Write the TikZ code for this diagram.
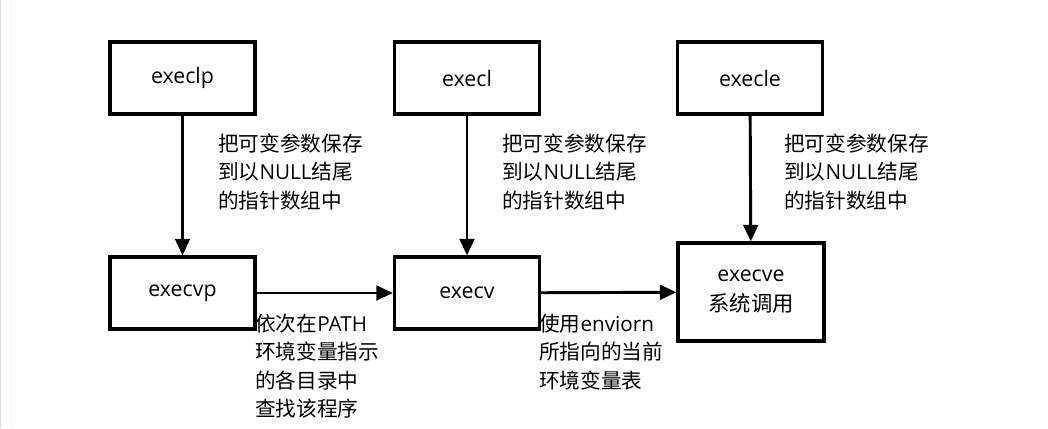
\documentclass[tikz,border=0pt]{standalone}
\usepackage{fontspec}
\setmainfont{Open Sans}
\newfontfamily\cjk{Noto Sans CJK SC}
\usetikzlibrary{arrows.meta}
\begin{document}
\begin{tikzpicture}[x=0.75pt,y=-0.75pt,
  box/.style={draw=black,line width=2.3pt,minimum width=108.75pt,minimum height=54pt,inner sep=0pt,
    font=\fontsize{16}{21.4}\selectfont,align=center},
  arr/.style={line width=2.2pt,-{Triangle[length=12.5pt,width=11pt]}},
  lab/.style={inner sep=0pt,anchor=west,align=left,font=\fontsize{15.5}{21.4}\selectfont}]
\useasboundingbox (0,0) rectangle (1048,428);
\fill[white] (0,0) rectangle (1048,428);
\draw[black!15,line width=1pt] (0.7,0) -- (0.7,428);
\draw[black!5,line width=0.75pt] (11,0) -- (11,428);
% boxes
\node[box] (execlp) at (182.5,78) {execlp};
\node[box] (execl) at (467,78) {execl};
\node[box] (execle) at (750,78) {execle};
\node[box] (execvp) at (182.5,293) {execvp};
\node[box] (execv) at (467,293) {execv};
\node[box,minimum width=109.5pt,minimum height=73.5pt] (execve) at (751,292)
  {execve\\[1pt]{\cjk 系统调用}};
% arrows
\draw[arr] (execlp) -- (execvp);
\draw[arr] (execl) -- (execv);
\draw[arr] (execle) -- (execve);
\draw[arr] (execvp) -- (execv);
\draw[arr] (execv) -- (execve);
% labels
\node[lab] (l1) at (218,172) {{\cjk 把可变参数保存}\\{\cjk 到以}NULL{\cjk 结尾}\\{\cjk 的指针数组中}};
\node[lab] (l2) at (502,172) {{\cjk 把可变参数保存}\\{\cjk 到以}NULL{\cjk 结尾}\\{\cjk 的指针数组中}};
\node[lab] (l3) at (784,172) {{\cjk 把可变参数保存}\\{\cjk 到以}NULL{\cjk 结尾}\\{\cjk 的指针数组中}};
\node[lab] (l4) at (255,366) {{\cjk 依次在}PATH\\{\cjk 环境变量指示}\\{\cjk 的各目录中}\\{\cjk 查找该程序}};
\node[lab] (l5) at (539,352) {{\cjk 使用}enviorn\\{\cjk 所指向的当前}\\{\cjk 环境变量表}};
\end{tikzpicture}
\end{document}
